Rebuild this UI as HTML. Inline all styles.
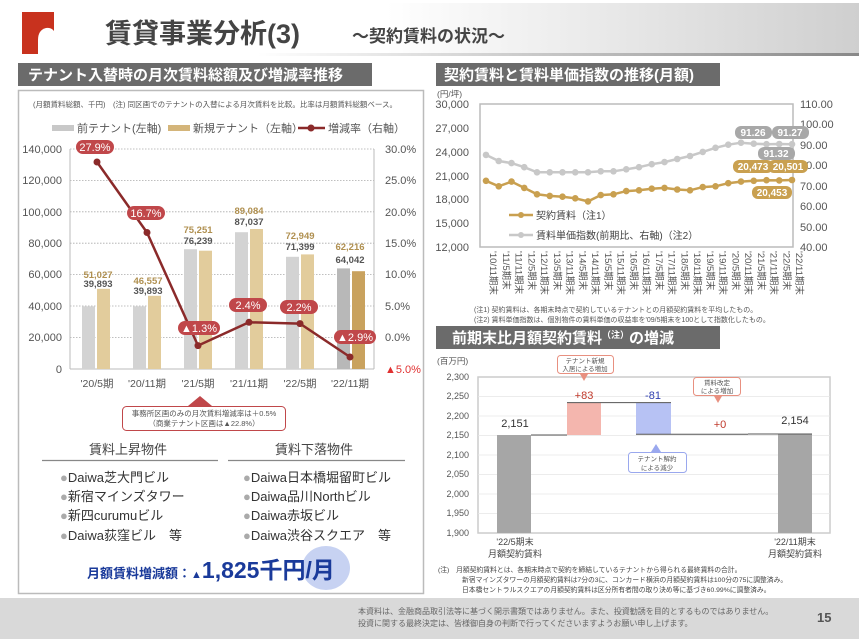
<!DOCTYPE html>
<html><head><meta charset="utf-8"><style>
html,body{margin:0;padding:0;background:#fff;}
svg{display:block;font-family:"Liberation Sans","Noto Sans CJK JP",sans-serif;}
</style></head><body>
<svg width="859" height="639" viewBox="0 0 859 639" xmlns="http://www.w3.org/2000/svg">
<defs>
<linearGradient id="hg" x1="0" x2="1" y1="0" y2="0">
<stop offset="0" stop-color="#fff"/><stop offset="0.45" stop-color="#fff"/><stop offset="1" stop-color="#cfcfcf"/></linearGradient>
<linearGradient id="hl" x1="0" x2="1"><stop offset="0" stop-color="#fff"/><stop offset="0.3" stop-color="#fff"/><stop offset="1" stop-color="#888"/></linearGradient>
</defs>
<rect x="0" y="3" width="859" height="50" fill="url(#hg)"/>
<rect x="0" y="53" width="859" height="3" fill="url(#hl)"/>
<rect x="22" y="12" width="32" height="42" fill="#c8321e"/>
<path d="M38 54 L38 40 Q38 30 46 28 Q54 27 56 36 L56 54 Z" fill="#fff"/>
<text x="105" y="43" font-size="27" font-weight="bold" fill="#444">賃貸事業分析(3)</text>
<text x="352" y="42" font-size="17" font-weight="bold" fill="#444">～契約賃料の状況～</text>

<rect x="18" y="63" width="354" height="23" fill="#6b6b6b"/>
<text x="28" y="80" font-size="15" font-weight="bold" fill="#fff">テナント入替時の月次賃料総額及び増減率推移</text>
<rect x="18.5" y="90.5" width="405" height="503" fill="none" stroke="#bbb" stroke-width="1.5"/>
<text x="33" y="107" font-size="7.5" fill="#555">(月額賃料総額、千円)　(注) 同区画でのテナントの入替による月次賃料を比較。比率は月額賃料総額ベース。</text>
<rect x="52" y="125" width="22" height="6" fill="#c8c8c8"/>
<text x="77" y="132" font-size="11" fill="#555">前テナント(左軸)</text>
<rect x="168" y="125" width="22" height="6" fill="#d4b57a"/>
<text x="193" y="132" font-size="11" fill="#555">新規テナント（左軸）</text>
<line x1="298" y1="128" x2="325" y2="128" stroke="#8b2a2a" stroke-width="2.5"/><circle cx="311" cy="128" r="3.5" fill="#8b2a2a"/>
<text x="328" y="132" font-size="11" fill="#555">増減率（右軸）</text>
<g stroke="#aaa" stroke-dasharray="1.5,1.5" stroke-width="0.8">
<line x1="70" y1="149" x2="374" y2="149"/><line x1="70" y1="180.4" x2="374" y2="180.4"/><line x1="70" y1="211.8" x2="374" y2="211.8"/><line x1="70" y1="243.2" x2="374" y2="243.2"/><line x1="70" y1="274.6" x2="374" y2="274.6"/><line x1="70" y1="306" x2="374" y2="306"/><line x1="70" y1="337.4" x2="374" y2="337.4"/>
</g>
<line x1="70" y1="149" x2="70" y2="369" stroke="#bbb"/><line x1="374" y1="149" x2="374" y2="369" stroke="#bbb"/>
<line x1="70" y1="369" x2="374" y2="369" stroke="#bbb"/>
<g font-size="11" fill="#555" text-anchor="end">
<text x="62" y="153">140,000</text><text x="62" y="184">120,000</text><text x="62" y="216">100,000</text><text x="62" y="247">80,000</text><text x="62" y="278">60,000</text><text x="62" y="310">40,000</text><text x="62" y="341">20,000</text><text x="62" y="373">0</text>
</g>
<g font-size="11" fill="#555">
<text x="385" y="153">30.0%</text><text x="385" y="184">25.0%</text><text x="385" y="216">20.0%</text><text x="385" y="247">15.0%</text><text x="385" y="278">10.0%</text><text x="385" y="310">5.0%</text><text x="385" y="341">0.0%</text><text x="385" y="373" fill="#e03030">▲5.0%</text>
</g>
<g fill="#d3d3d3">
<rect x="82" y="306.3" width="13" height="62.7"/><rect x="133" y="306.3" width="13" height="62.7"/><rect x="184" y="249.2" width="13" height="119.8"/><rect x="235" y="232.2" width="13" height="136.8"/><rect x="286" y="256.8" width="13" height="112.2"/><rect x="337" y="268.4" width="13" height="100.6" fill="#b8b8b8"/>
</g>
<g fill="#e2cc9c">
<rect x="97" y="288.8" width="13" height="80.2"/><rect x="148" y="295.8" width="13" height="73.2"/><rect x="199" y="250.7" width="13" height="118.3"/><rect x="250" y="229" width="13" height="140"/><rect x="301" y="254.4" width="13" height="114.6"/><rect x="352" y="271.2" width="13" height="97.8" fill="#c9a25e"/>
</g>
<g font-size="9.5" font-weight="bold" text-anchor="middle">
<g fill="#b09050"><text x="98" y="278">51,027</text><text x="148" y="284">46,557</text><text x="198" y="233">75,251</text><text x="249" y="214">89,084</text><text x="300" y="239">72,949</text><text x="350" y="250">62,216</text></g>
<g fill="#555"><text x="98" y="287">39,893</text><text x="148" y="294">39,893</text><text x="198" y="244">76,239</text><text x="249" y="225">87,037</text><text x="300" y="250">71,399</text><text x="350" y="263">64,042</text></g>
</g>
<polyline points="97,162 147,232.5 198,345.6 249,322.3 300,323.6 350,357" fill="none" stroke="#8b2a2a" stroke-width="2.5"/>
<g fill="#8b2a2a"><circle cx="97" cy="162" r="3.5"/><circle cx="147" cy="232.5" r="3.5"/><circle cx="198" cy="345.6" r="3.5"/><circle cx="249" cy="322.3" r="3.5"/><circle cx="300" cy="323.6" r="3.5"/><circle cx="350" cy="357" r="3.5"/></g>
<g fill="#c0474a"><rect x="76" y="140" width="38" height="14" rx="7"/><rect x="127" y="206" width="38" height="14" rx="7"/><rect x="178" y="321" width="42" height="14" rx="7"/><rect x="229" y="298" width="38" height="14" rx="7"/><rect x="280" y="300" width="38" height="14" rx="7"/><rect x="334" y="330" width="42" height="14" rx="7"/></g>
<g fill="#fff" font-size="11" text-anchor="middle"><text x="95" y="151">27.9%</text><text x="146" y="217">16.7%</text><text x="199" y="332">▲1.3%</text><text x="248" y="309">2.4%</text><text x="299" y="311">2.2%</text><text x="355" y="341">▲2.9%</text></g>
<g font-size="10.5" fill="#555" text-anchor="middle"><text x="97" y="387">'20/5期</text><text x="147" y="387">'20/11期</text><text x="198" y="387">'21/5期</text><text x="249" y="387">'21/11期</text><text x="300" y="387">'22/5期</text><text x="350" y="387">'22/11期</text></g>
<polygon points="200,396 188,406 212,406" fill="#c0474a"/>
<rect x="122.5" y="406.5" width="163" height="24" rx="4" fill="#fff" stroke="#c0474a"/>
<text x="204" y="416" font-size="7.5" fill="#555" text-anchor="middle">事務所区画のみの月次賃料増減率は＋0.5%</text>
<text x="204" y="426" font-size="7.5" fill="#555" text-anchor="middle">（商業テナント区画は▲22.8%）</text>
<text x="128" y="454" font-size="13" fill="#444" text-anchor="middle">賃料上昇物件</text>
<text x="314" y="454" font-size="13" fill="#444" text-anchor="middle">賃料下落物件</text>
<line x1="42" y1="460.5" x2="218" y2="460.5" stroke="#888" stroke-width="1.2"/>
<line x1="228" y1="460.5" x2="405" y2="460.5" stroke="#888" stroke-width="1.2"/>
<g font-size="13" fill="#333">
<text x="60" y="482"><tspan fill="#aaa">●</tspan>Daiwa芝大門ビル</text>
<text x="60" y="501"><tspan fill="#aaa">●</tspan>新宿マインズタワー</text>
<text x="60" y="520"><tspan fill="#aaa">●</tspan>新四curumuビル</text>
<text x="60" y="540"><tspan fill="#aaa">●</tspan>Daiwa荻窪ビル　等</text>
<text x="243" y="482"><tspan fill="#aaa">●</tspan>Daiwa日本橋堀留町ビル</text>
<text x="243" y="501"><tspan fill="#aaa">●</tspan>Daiwa品川Northビル</text>
<text x="243" y="520"><tspan fill="#aaa">●</tspan>Daiwa赤坂ビル</text>
<text x="243" y="540"><tspan fill="#aaa">●</tspan>Daiwa渋谷スクエア　等</text>
</g>
<ellipse cx="326" cy="568" rx="24" ry="22" fill="#c7d2f2"/>
<text x="87" y="578" font-size="13" font-weight="bold" fill="#1a3a9a">月額賃料増減額：<tspan font-size="11">▲</tspan><tspan font-size="23">1,825千円/月</tspan></text>

<rect x="436" y="63" width="284" height="23" fill="#6b6b6b"/>
<text x="444" y="80" font-size="15" font-weight="bold" fill="#fff">契約賃料と賃料単価指数の推移(月額)</text>
<text x="437" y="97" font-size="8.5" fill="#555">(円/坪)</text>
<rect x="480" y="104" width="313" height="143" fill="none" stroke="#bbb" stroke-width="1.5"/>
<g font-size="11" fill="#555" text-anchor="end">
<text x="469" y="108">30,000</text><text x="469" y="132">27,000</text><text x="469" y="156">24,000</text><text x="469" y="180">21,000</text><text x="469" y="203">18,000</text><text x="469" y="227">15,000</text><text x="469" y="251">12,000</text>
</g>
<g font-size="11" fill="#555">
<text x="800" y="108">110.00</text><text x="800" y="128">100.00</text><text x="800" y="149">90.00</text><text x="800" y="169">80.00</text><text x="800" y="190">70.00</text><text x="800" y="210">60.00</text><text x="800" y="231">50.00</text><text x="800" y="251">40.00</text>
</g>
<polyline fill="none" stroke="#c8c8c8" stroke-width="2.5" points="486,154.9 498.75,161 511.5,163.1 524.25,167.2 537,172.3 549.75,172.3 562.5,172.3 575.25,172.3 588,172.3 600.75,171.3 613.5,171.3 626.25,169.3 639,167.2 651.75,164.2 664.5,162.1 677.25,159 690,156 702.75,151.9 715.5,147.8 728.25,144.7 741,142.7 753.75,143.7 766.5,144.2 779.25,144 792,144.2"/>
<g fill="#c8c8c8">
<circle cx="486" cy="154.9" r="3.3"/><circle cx="498.75" cy="161" r="3.3"/><circle cx="511.5" cy="163.1" r="3.3"/><circle cx="524.25" cy="167.2" r="3.3"/><circle cx="537" cy="172.3" r="3.3"/><circle cx="549.75" cy="172.3" r="3.3"/><circle cx="562.5" cy="172.3" r="3.3"/><circle cx="575.25" cy="172.3" r="3.3"/><circle cx="588" cy="172.3" r="3.3"/><circle cx="600.75" cy="171.3" r="3.3"/><circle cx="613.5" cy="171.3" r="3.3"/><circle cx="626.25" cy="169.3" r="3.3"/><circle cx="639" cy="167.2" r="3.3"/><circle cx="651.75" cy="164.2" r="3.3"/><circle cx="664.5" cy="162.1" r="3.3"/><circle cx="677.25" cy="159" r="3.3"/><circle cx="690" cy="156" r="3.3"/><circle cx="702.75" cy="151.9" r="3.3"/><circle cx="715.5" cy="147.8" r="3.3"/><circle cx="728.25" cy="144.7" r="3.3"/><circle cx="741" cy="142.7" r="3.3"/><circle cx="753.75" cy="143.7" r="3.3"/><circle cx="766.5" cy="144.2" r="3.3"/><circle cx="779.25" cy="144" r="3.3"/><circle cx="792" cy="144.2" r="3.3"/>
</g>
<polyline fill="none" stroke="#c9a050" stroke-width="2.5" points="486,180.8 498.75,186.3 511.5,181.6 524.25,187.9 537,194.3 549.75,195.9 562.5,196.7 575.25,198.3 588,201.4 600.75,195.1 613.5,194.3 626.25,191.1 639,190.3 651.75,188.7 664.5,187.9 677.25,189.5 690,190.3 702.75,187.1 715.5,186.3 728.25,183.2 741,181.6 753.75,180.8 766.5,180.2 779.25,180.4 792,180"/>
<g fill="#c9a050">
<circle cx="486" cy="180.8" r="3.3"/><circle cx="498.75" cy="186.3" r="3.3"/><circle cx="511.5" cy="181.6" r="3.3"/><circle cx="524.25" cy="187.9" r="3.3"/><circle cx="537" cy="194.3" r="3.3"/><circle cx="549.75" cy="195.9" r="3.3"/><circle cx="562.5" cy="196.7" r="3.3"/><circle cx="575.25" cy="198.3" r="3.3"/><circle cx="588" cy="201.4" r="3.3"/><circle cx="600.75" cy="195.1" r="3.3"/><circle cx="613.5" cy="194.3" r="3.3"/><circle cx="626.25" cy="191.1" r="3.3"/><circle cx="639" cy="190.3" r="3.3"/><circle cx="651.75" cy="188.7" r="3.3"/><circle cx="664.5" cy="187.9" r="3.3"/><circle cx="677.25" cy="189.5" r="3.3"/><circle cx="690" cy="190.3" r="3.3"/><circle cx="702.75" cy="187.1" r="3.3"/><circle cx="715.5" cy="186.3" r="3.3"/><circle cx="728.25" cy="183.2" r="3.3"/><circle cx="741" cy="181.6" r="3.3"/><circle cx="753.75" cy="180.8" r="3.3"/><circle cx="766.5" cy="180.2" r="3.3"/><circle cx="779.25" cy="180.4" r="3.3"/><circle cx="792" cy="180" r="3.3"/>
</g>
<g fill="#a8a8a8"><rect x="735" y="126" width="37" height="13" rx="6"/><rect x="772" y="126" width="37" height="13" rx="6"/><rect x="758" y="147" width="37" height="13" rx="6"/></g>
<g fill="#c9a050"><rect x="733" y="160" width="40" height="13" rx="6"/><rect x="768" y="160" width="40" height="13" rx="6"/><rect x="752" y="186" width="40" height="13" rx="6"/></g>
<g fill="#fff" font-size="10" font-weight="bold" text-anchor="middle"><text x="753" y="136">91.26</text><text x="790" y="136">91.27</text><text x="776" y="157">91.32</text><text x="753" y="170">20,473</text><text x="788" y="170">20,501</text><text x="772" y="196">20,453</text></g>
<line x1="509" y1="215" x2="533" y2="215" stroke="#c9a050" stroke-width="2.5"/><circle cx="521" cy="215" r="3" fill="#c9a050"/>
<text x="536" y="219" font-size="10" fill="#444">契約賃料（注1）</text>
<line x1="509" y1="235" x2="533" y2="235" stroke="#c8c8c8" stroke-width="2.5"/><circle cx="521" cy="235" r="3" fill="#c8c8c8"/>
<text x="536" y="239" font-size="10" fill="#444">賃料単価指数(前期比、右軸)（注2）</text>
<g font-size="9.5" fill="#555">
<text transform="translate(490,251) rotate(90)">'10/11期末</text><text transform="translate(502.75,251) rotate(90)">'11/5期末</text><text transform="translate(515.5,251) rotate(90)">'11/11期末</text><text transform="translate(528.25,251) rotate(90)">'12/5期末</text><text transform="translate(541,251) rotate(90)">'12/11期末</text><text transform="translate(553.75,251) rotate(90)">'13/5期末</text><text transform="translate(566.5,251) rotate(90)">'13/11期末</text><text transform="translate(579.25,251) rotate(90)">'14/5期末</text><text transform="translate(592,251) rotate(90)">'14/11期末</text><text transform="translate(604.75,251) rotate(90)">'15/5期末</text><text transform="translate(617.5,251) rotate(90)">'15/11期末</text><text transform="translate(630.25,251) rotate(90)">'16/5期末</text><text transform="translate(643,251) rotate(90)">'16/11期末</text><text transform="translate(655.75,251) rotate(90)">'17/5期末</text><text transform="translate(668.5,251) rotate(90)">'17/11期末</text><text transform="translate(681.25,251) rotate(90)">'18/5期末</text><text transform="translate(694,251) rotate(90)">'18/11期末</text><text transform="translate(706.75,251) rotate(90)">'19/5期末</text><text transform="translate(719.5,251) rotate(90)">'19/11期末</text><text transform="translate(732.25,251) rotate(90)">'20/5期末</text><text transform="translate(745,251) rotate(90)">'20/11期末</text><text transform="translate(757.75,251) rotate(90)">'21/5期末</text><text transform="translate(770.5,251) rotate(90)">'21/11期末</text><text transform="translate(783.25,251) rotate(90)">'22/5期末</text><text transform="translate(796,251) rotate(90)">'22/11期末</text>
</g>
<text x="474" y="312" font-size="7" fill="#555">(注1) 契約賃料は、各期末時点で契約しているテナントとの月額契約賃料を平均したもの。</text>
<text x="474" y="322" font-size="7" fill="#555">(注2) 賃料単価指数は、個別物件の賃料単価の収益率を'09/5期末を100として指数化したもの。</text>

<rect x="436" y="326" width="284" height="23" fill="#6b6b6b"/>
<text x="452" y="343" font-size="15" font-weight="bold" fill="#fff">前期末比月額契約賃料<tspan font-size="9" dy="-5">（注）</tspan><tspan dy="5">の増減</tspan></text>
<text x="437" y="364" font-size="8.5" fill="#555">(百万円)</text>
<rect x="478" y="377" width="352" height="156" fill="none" stroke="#ccc" stroke-width="1.5"/>
<g stroke="#e6e6e6" stroke-width="0.8"><line x1="478" y1="396.5" x2="830" y2="396.5"/><line x1="478" y1="416" x2="830" y2="416"/><line x1="478" y1="435.5" x2="830" y2="435.5"/><line x1="478" y1="455" x2="830" y2="455"/><line x1="478" y1="474.5" x2="830" y2="474.5"/><line x1="478" y1="494" x2="830" y2="494"/><line x1="478" y1="513.5" x2="830" y2="513.5"/></g>
<g font-size="9" fill="#555" text-anchor="end">
<text x="469" y="380">2,300</text><text x="469" y="399">2,250</text><text x="469" y="419">2,200</text><text x="469" y="438">2,150</text><text x="469" y="458">2,100</text><text x="469" y="477">2,050</text><text x="469" y="497">2,000</text><text x="469" y="516">1,950</text><text x="469" y="536">1,900</text>
</g>
<rect x="497" y="435" width="34" height="98" fill="#a6a6a6"/>
<rect x="567" y="402.6" width="34" height="32.4" fill="#f4b6ae"/>
<rect x="636" y="402.6" width="35" height="31.6" fill="#b7c2f4"/>
<rect x="778" y="433.8" width="34" height="99.2" fill="#a6a6a6"/>
<g stroke="#555" stroke-width="1"><line x1="531" y1="435" x2="567" y2="435"/><line x1="567" y1="402.6" x2="671" y2="402.6"/><line x1="636" y1="434.2" x2="748" y2="434.2"/><line x1="748" y1="434" x2="812" y2="434"/></g>
<g font-size="11" text-anchor="middle"><text x="515" y="427" fill="#333">2,151</text><text x="584" y="399" fill="#c0392b">+83</text><text x="653" y="399" fill="#3040b0">-81</text><text x="720" y="428" fill="#c0392b">+0</text><text x="795" y="424" fill="#333">2,154</text></g>
<rect x="557.5" y="355.5" width="56" height="18" rx="3" fill="#fff" stroke="#e89080"/>
<text x="585" y="363" font-size="6.5" fill="#555" text-anchor="middle">テナント新規</text><text x="585" y="371" font-size="6.5" fill="#555" text-anchor="middle">入居による増加</text>
<polygon points="580,374 588,374 584,381" fill="#e89080"/>
<rect x="693.5" y="377.5" width="47" height="18" rx="3" fill="#fff" stroke="#e89080"/>
<text x="717" y="385" font-size="6.5" fill="#555" text-anchor="middle">賃料改定</text><text x="717" y="393" font-size="6.5" fill="#555" text-anchor="middle">による増加</text>
<polygon points="714,396 722,396 718,403" fill="#e89080"/>
<polygon points="656,444 651,452 661,452" fill="#9aa8ee"/>
<rect x="628.5" y="452.5" width="58" height="20" rx="3" fill="#fff" stroke="#9aa8ee"/>
<text x="657" y="461" font-size="6.5" fill="#555" text-anchor="middle">テナント解約</text><text x="657" y="470" font-size="6.5" fill="#555" text-anchor="middle">による減少</text>
<g font-size="9" fill="#444" text-anchor="middle"><text x="515" y="545">'22/5期末</text><text x="515" y="557">月額契約賃料</text><text x="795" y="545">'22/11期末</text><text x="795" y="557">月額契約賃料</text></g>
<g font-size="6.8" fill="#444"><text x="438" y="572">(注)　月額契約賃料とは、各期末時点で契約を締結しているテナントから得られる最終賃料の合計。</text><text x="462" y="582">新宿マインズタワーの月額契約賃料は7分の3に、コンカード横浜の月額契約賃料は100分の75に調整済み。</text><text x="462" y="592">日本橋セントラルスクエアの月額契約賃料は区分所有者間の取り決め等に基づき60.99%に調整済み。</text></g>

<rect x="0" y="598" width="859" height="41" fill="#d9d9d9"/>
<text x="358" y="614" font-size="8" fill="#666">本資料は、金融商品取引法等に基づく開示書類ではありません。また、投資勧誘を目的とするものではありません。</text>
<text x="358" y="626" font-size="8" fill="#666">投資に関する最終決定は、皆様御自身の判断で行ってくださいますようお願い申し上げます。</text>
<text x="817" y="622" font-size="13" font-weight="bold" fill="#555">15</text>
</svg>
</body></html>
